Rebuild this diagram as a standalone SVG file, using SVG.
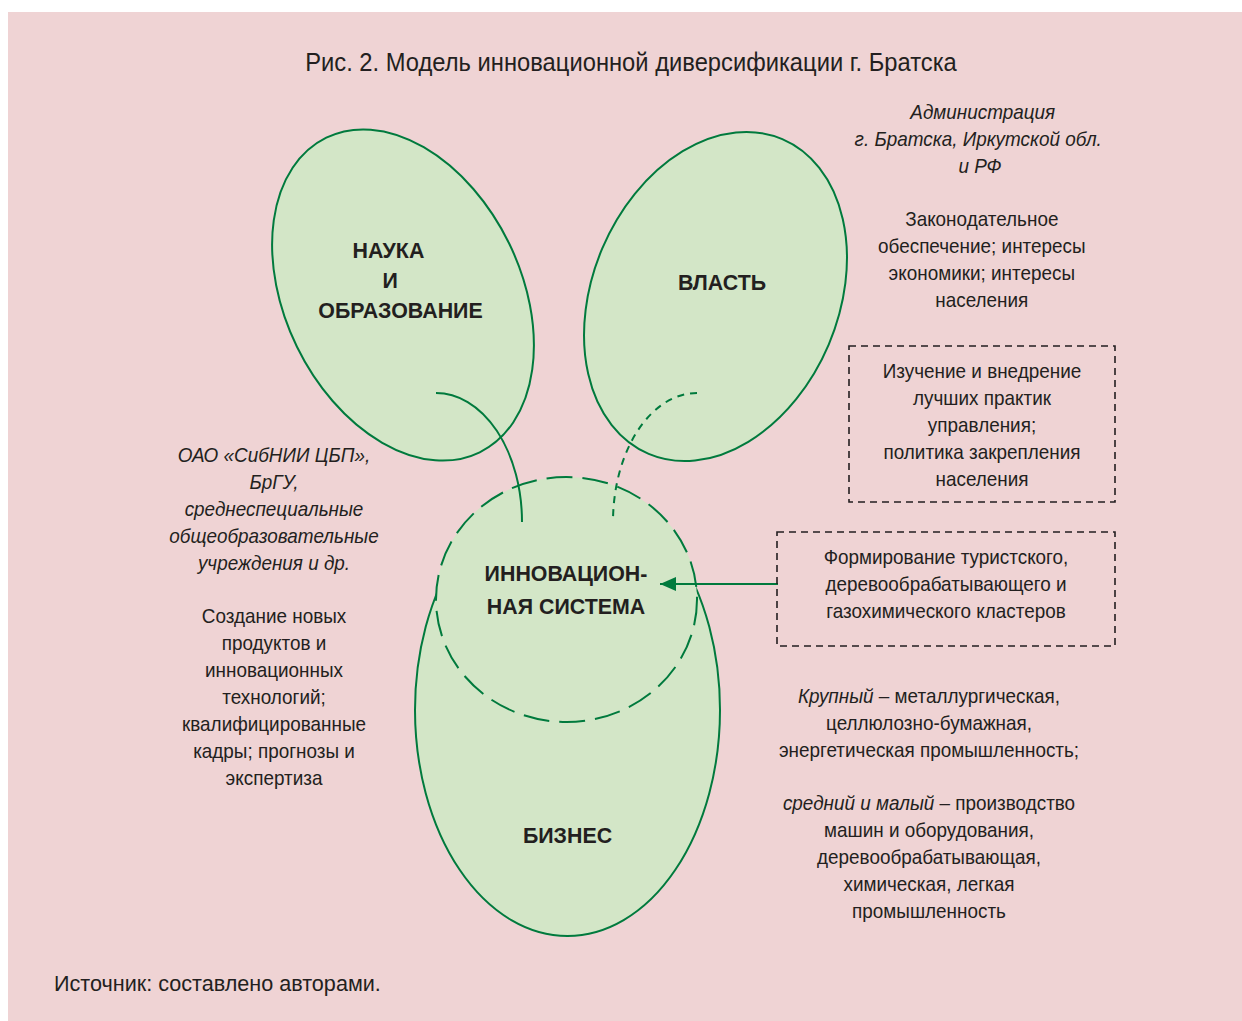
<svg xmlns="http://www.w3.org/2000/svg" width="1242" height="1021" viewBox="0 0 1242 1021">
<defs>
<style>
.t{font-family:"Liberation Sans",Arial,sans-serif;font-size:21px;fill:#231f20;text-anchor:middle}
.l{text-anchor:start}
.i{font-style:italic}
.b{font-weight:bold;font-size:23px}
.oval{fill:#d3e6c7;stroke:#007a3d;stroke-width:2}
.box{fill:none;stroke:#231f20;stroke-width:1.6;stroke-dasharray:7 5}
.con{fill:none;stroke:#007a3d;stroke-width:2}
</style>
<marker id="ah" markerWidth="16" markerHeight="14" refX="16" refY="7" orient="auto" markerUnits="userSpaceOnUse"><path d="M0,0 L16,7 L0,14 Z" fill="#007a3d"/></marker>
</defs>
<rect x="0" y="0" width="1242" height="1021" fill="#ffffff"/>
<rect x="8" y="12" width="1234" height="1009" fill="#efd3d4"/>

<g id="title" class="t" transform="translate(631,0) scale(0.95,1)"><text x="0" y="71" style="font-size:25px">Рис. 2. Модель инновационной диверсификации г. Братска</text></g>

<g id="node-nauka">
<ellipse class="oval" cx="403" cy="295" rx="118" ry="175" transform="rotate(-26 403 295)"/>
<g class="t b" transform="translate(394,0) scale(0.93,1)">
<text x="-6" y="258">НАУКА</text>
<text x="-4" y="288">И</text>
<text x="7" y="318">ОБРАЗОВАНИЕ</text>
</g>
</g>

<g id="node-vlast">
<ellipse class="oval" cx="715.5" cy="296.5" rx="123" ry="171" transform="rotate(23 715.5 296.5)"/>
<g class="t b" transform="translate(722,0) scale(0.93,1)"><text x="0" y="290">ВЛАСТЬ</text></g>
</g>

<g id="node-biznes">
<ellipse class="oval" cx="567.5" cy="710" rx="152.5" ry="226"/>
<g class="t b" transform="translate(567.5,0) scale(0.93,1)"><text x="0" y="843">БИЗНЕС</text></g>
</g>

<g id="node-innov">
<ellipse cx="566.5" cy="599.5" rx="130.5" ry="122.5" fill="#d3e6c7" stroke="#007a3d" stroke-width="2" stroke-dasharray="26 10"/>
<g class="t b" transform="translate(566,0) scale(0.93,1)">
<text x="0" y="581">ИННОВАЦИОН-</text>
<text x="0" y="614">НАЯ СИСТЕМА</text>
</g>
</g>

<g id="connectors">
<path class="con" d="M436,393 A86,129 0 0 1 522,522"/>
<path class="con" d="M697,393 A84,129 0 0 0 613,522" stroke-dasharray="7 6"/>
<line class="con" x1="778" y1="584" x2="660" y2="584" marker-end="url(#ah)"/>
</g>

<g id="note-admin" class="t" transform="translate(980,0) scale(0.9,1)">
<text class="i" x="3" y="119">Администрация</text>
<text class="i" x="-2" y="146">г. Братска, Иркутской обл.</text>
<text class="i" x="0" y="173">и РФ</text>
<text x="2" y="226">Законодательное</text>
<text x="2" y="253">обеспечение; интересы</text>
<text x="2" y="280">экономики; интересы</text>
<text x="2" y="307">населения</text>
</g>

<g id="box-practices">
<rect class="box" x="849" y="346" width="266" height="156"/>
<g class="t" transform="translate(982,0) scale(0.9,1)">
<text x="0" y="378">Изучение и внедрение</text>
<text x="0" y="405">лучших практик</text>
<text x="0" y="432">управления;</text>
<text x="0" y="459">политика закрепления</text>
<text x="0" y="486">населения</text>
</g>
</g>

<g id="box-clusters">
<rect class="box" x="777" y="532" width="338" height="114"/>
<g class="t" transform="translate(946,0) scale(0.9,1)">
<text x="0" y="564">Формирование туристского,</text>
<text x="0" y="591">деревообрабатывающего и</text>
<text x="0" y="618">газохимического кластеров</text>
</g>
</g>

<g id="note-science" class="t" transform="translate(274,0) scale(0.9,1)">
<text class="i" x="0" y="462">ОАО «СибНИИ ЦБП»,</text>
<text class="i" x="0" y="489">БрГУ,</text>
<text class="i" x="0" y="516">среднеспециальные</text>
<text class="i" x="0" y="543">общеобразовательные</text>
<text class="i" x="0" y="570">учреждения и др.</text>
<text x="0" y="623">Создание новых</text>
<text x="0" y="650">продуктов и</text>
<text x="0" y="677">инновационных</text>
<text x="0" y="704">технологий;</text>
<text x="0" y="731">квалифицированные</text>
<text x="0" y="758">кадры; прогнозы и</text>
<text x="0" y="785">экспертиза</text>
</g>

<g id="note-business" class="t" transform="translate(929,0) scale(0.9,1)">
<text x="0" y="703"><tspan class="i">Крупный</tspan> – металлургическая,</text>
<text x="0" y="730">целлюлозно-бумажная,</text>
<text x="0" y="757">энергетическая промышленность;</text>
<text x="0" y="810"><tspan class="i">средний и малый</tspan> – производство</text>
<text x="0" y="837">машин и оборудования,</text>
<text x="0" y="864">деревообрабатывающая,</text>
<text x="0" y="891">химическая, легкая</text>
<text x="0" y="918">промышленность</text>
</g>

<g id="source" class="t"><text class="l" x="54" y="991" style="font-size:21.6px">Источник: составлено авторами.</text></g>
</svg>
